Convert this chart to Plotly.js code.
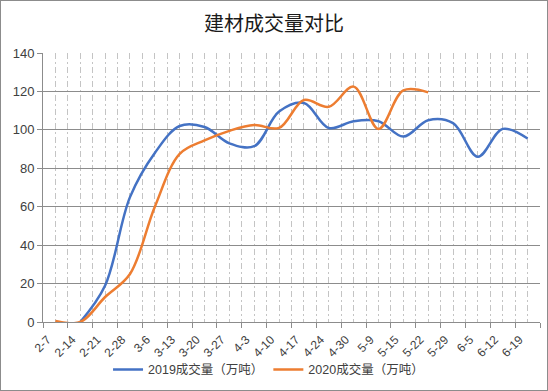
<!DOCTYPE html>
<html>
<head>
<meta charset="utf-8">
<script src="https://cdn.plot.ly/plotly-3.0.1.min.js"></script>
<style>
  html, body { margin: 0; padding: 0; background: #fff; }
  #chart { width: 548px; height: 391px; box-sizing: border-box; border: 1px solid #8c8c8c; }
</style>
</head>
<body>
<div id="chart"></div>
<script>
const categories = ['2-7','2-14','2-21','2-28','3-6','3-13','3-20','3-27','4-3','4-10','4-17','4-24','4-30','5-9','5-15','5-22','5-29','6-5','6-12','6-19'];
const series2019 = [null, 0, 19, 65, 88, 102, 101.5, 93, 91.5, 109.5, 114, 101, 104.5, 104.5, 96.5, 105, 103.5, 86, 100.5, 95.5];
const series2020 = [0.5, 0, 13, 25, 60, 87.5, 94.5, 99.5, 102.5, 101, 115.5, 112, 122.5, 100.5, 120.5, 119.5, null, null, null, null];
const name2019 = '2019成交量（万吨）';
const name2020 = '2020成交量（万吨）';
const titleText = '建材成交量对比';

const idx = categories.map((c, i) => i);
const FONT = '"Liberation Sans", Arial, "Noto Sans CJK SC", sans-serif';
const gridDash = '6px,3px,2px,3px';

const traces = [
  { x: idx, y: series2019, name: name2019, type: 'scatter', mode: 'lines',
    line: { color: '#4472C4', width: 2.5, shape: 'spline', smoothing: 1 }, connectgaps: false },
  { x: idx, y: series2020, name: name2020, type: 'scatter', mode: 'lines',
    line: { color: '#ED7D31', width: 2.5, shape: 'spline', smoothing: 1 }, connectgaps: false }
];

const layout = {
  width: 546, height: 389,
  margin: { l: 42, r: 7, t: 52, b: 68 },
  paper_bgcolor: '#fff', plot_bgcolor: '#fff',
  font: { family: FONT, size: 12, color: '#404040' },
  title: { text: titleText, x: 0.5, xanchor: 'center', y: 0.94, yanchor: 'middle',
           font: { family: '"Noto Sans CJK SC", sans-serif', size: 20, color: '#1a1a1a' } },
  showlegend: true,
  legend: { orientation: 'h', xref: 'container', x: 0.49, xanchor: 'center',
            yref: 'container', y: 0.052, yanchor: 'middle', tracegroupgap: 0,
            font: { family: FONT, size: 12.5, color: '#404040' }, bgcolor: 'rgba(0,0,0,0)' },
  xaxis: {
    type: 'linear', range: [-0.5, categories.length - 0.5], fixedrange: true,
    tickmode: 'array', tickvals: idx, ticktext: categories, tickangle: -45,
    ticklabelshift: -8, ticklabelstandoff: 5,
    ticks: '', showgrid: true, gridcolor: '#c4c4c4', gridwidth: 1, griddash: gridDash,
    zeroline: false, showline: true, linecolor: '#8c8c8c', linewidth: 1,
    tickfont: { family: FONT, size: 12, color: '#404040' },
    minor: { tickmode: 'linear', tick0: -0.5, dtick: 1, showgrid: true, gridcolor: '#c4c4c4',
             gridwidth: 1, griddash: gridDash, ticks: 'outside', ticklen: 5, tickcolor: '#8c8c8c', tickwidth: 1 }
  },
  yaxis: {
    range: [0, 140], dtick: 20, tick0: 0, fixedrange: true,
    showgrid: true, gridcolor: '#8c8c8c', gridwidth: 1,
    zeroline: false, showline: true, linecolor: '#8c8c8c', linewidth: 1,
    ticks: 'outside', ticklen: 5, tickcolor: '#8c8c8c',
    tickfont: { family: FONT, size: 13, color: '#404040' }
  }
};

Plotly.newPlot('chart', traces, layout, { staticPlot: true, displayModeBar: false });
</script>
</body>
</html>
